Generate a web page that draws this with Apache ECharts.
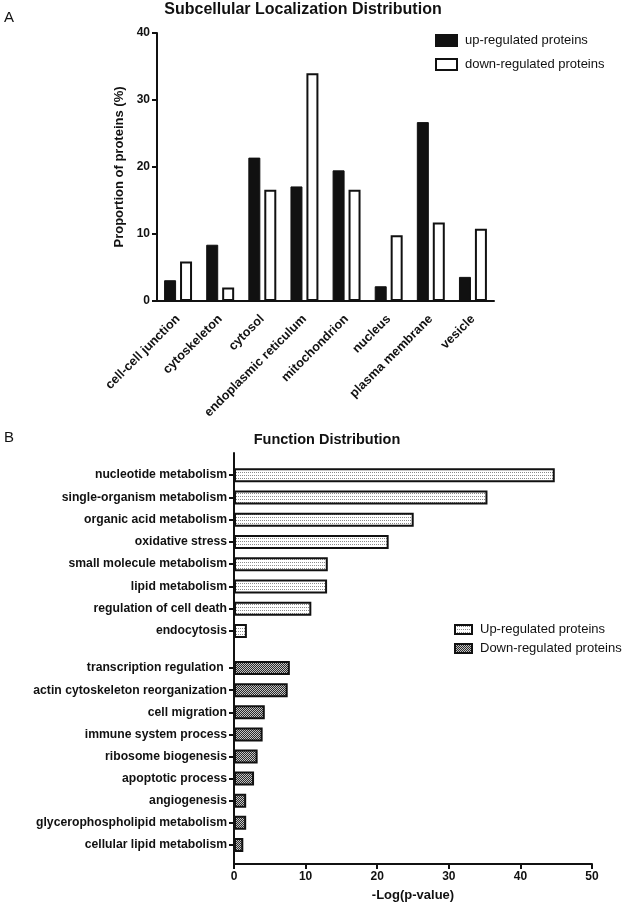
<!DOCTYPE html>
<html>
<head>
<meta charset="utf-8">
<script src="https://cdn.jsdelivr.net/npm/echarts@6/dist/echarts.min.js"></script>
<style>
html,body{margin:0;padding:0;background:#fff;}
#chart{width:625px;height:905px;}
</style>
</head>
<body>
<div id="chart"></div>
<script>
// ---- Data: Subcellular localization (A) ----
const locCategories = ['cell-cell junction','cytoskeleton','cytosol','endoplasmic reticulum','mitochondrion','nucleus','plasma membrane','vesicle'];
const locUp = [3.1, 8.4, 21.4, 17.1, 19.5, 2.2, 26.7, 3.6];
const locDown = [5.9, 2.0, 16.6, 34.0, 16.6, 9.8, 11.7, 10.8];
const locYTicks = [0, 10, 20, 30, 40];

// ---- Data: Function distribution (B) ----
const funcUpCategories = ['nucleotide metabolism','single-organism metabolism','organic acid metabolism','oxidative stress','small molecule metabolism','lipid metabolism','regulation of cell death','endocytosis'];
const funcUpValues = [44.8, 35.4, 25.1, 21.6, 13.1, 13.0, 10.8, 1.8];
const funcDownCategories = ['transcription regulation ','actin cytoskeleton reorganization','cell migration','immune system process','ribosome biogenesis','apoptotic process','angiogenesis','glycerophospholipid metabolism','cellular lipid metabolism'];
const funcDownValues = [7.8, 7.5, 4.3, 4.0, 3.3, 2.8, 1.7, 1.7, 1.3];
const funcXTicks = [0, 10, 20, 30, 40, 50];

const FONT = '"Liberation Sans", Arial, Helvetica, sans-serif';
const INK = '#111';

function makePattern(w, h, bg, fg, pts) {
  const c = document.createElement('canvas');
  c.width = w; c.height = h;
  const ctx = c.getContext('2d');
  ctx.fillStyle = bg; ctx.fillRect(0, 0, w, h);
  ctx.fillStyle = fg;
  pts.forEach(p => ctx.fillRect(p[0], p[1], 1, 1));
  return { image: c, repeat: 'repeat' };
}
const dotPattern = makePattern(2, 3, '#ffffff', '#8a8a8a', [[0, 1]]);
const checkPattern = makePattern(2, 2, '#2a2a2a', '#c4c4c4', [[0, 0], [1, 1]]);

const chart = echarts.init(document.getElementById('chart'), null, {renderer: 'canvas'});

const axisLineStyle = {color: INK, width: 2};
const boldLabel = {color: INK, fontFamily: FONT, fontWeight: 'bold', fontSize: 12};

const option = {
  backgroundColor: '#fff',
  animation: false,
  graphic: [
    {type: 'text', x: 4, y: 10, style: {text: 'A', font: '15px ' + FONT, fill: INK}},
    {type: 'text', x: 303, y: 10, style: {text: 'Subcellular Localization Distribution', font: 'bold 16px ' + FONT, fill: INK, textAlign: 'center', textVerticalAlign: 'middle'}},
    {type: 'text', x: 4, y: 430, style: {text: 'B', font: '15px ' + FONT, fill: INK}},
    {type: 'text', x: 327, y: 440, style: {text: 'Function Distribution', font: 'bold 14.5px ' + FONT, fill: INK, textAlign: 'center', textVerticalAlign: 'middle'}}
  ],
  legend: [
    {
      data: ['up-regulated proteins', 'down-regulated proteins'],
      orient: 'vertical', left: 430, top: 29,
      itemWidth: 21, itemHeight: 11, itemGap: 11,
      textStyle: {color: INK, fontFamily: FONT, fontSize: 13, padding: [0, 0, 0, 3]},
      icon: 'rect', selectedMode: false
    },
    {
      data: ['Up-regulated proteins', 'Down-regulated proteins'],
      orient: 'vertical', left: 449, top: 618,
      itemWidth: 17, itemHeight: 9, itemGap: 6,
      textStyle: {color: INK, fontFamily: FONT, fontSize: 13, padding: [0, 0, 0, 3]},
      icon: 'rect', selectedMode: false
    }
  ],
  grid: [
    {left: 157, top: 33, width: 337, height: 268},
    {left: 234, top: 453, width: 358, height: 411},
    {left: 234, top: 464, width: 358, height: 178},
    {left: 234, top: 657, width: 358, height: 199}
  ],
  xAxis: [
    {
      gridIndex: 0, type: 'category', data: locCategories,
      axisLine: {lineStyle: axisLineStyle},
      axisTick: {alignWithLabel: true, length: 5, lineStyle: {color: INK, width: 2}},
      axisLabel: Object.assign({}, boldLabel, {rotate: 45, interval: 0, margin: 16, fontSize: 12.7}),
      splitLine: {show: false}
    },
    {
      gridIndex: 1, type: 'value', min: funcXTicks[0], max: funcXTicks[funcXTicks.length - 1], interval: funcXTicks[1] - funcXTicks[0],
      name: '-Log(p-value)', nameLocation: 'middle', nameGap: 25,
      nameTextStyle: {color: INK, fontFamily: FONT, fontWeight: 'bold', fontSize: 13},
      axisLine: {lineStyle: axisLineStyle},
      axisTick: {show: true, length: 5, lineStyle: {color: INK, width: 2}},
      axisLabel: Object.assign({}, boldLabel, {margin: 7}),
      splitLine: {show: false}
    },
    {gridIndex: 2, type: 'value', min: 0, max: 50, show: false},
    {gridIndex: 3, type: 'value', min: 0, max: 50, show: false}
  ],
  yAxis: [
    {
      gridIndex: 0, type: 'value', min: locYTicks[0], max: locYTicks[locYTicks.length - 1], interval: locYTicks[1] - locYTicks[0],
      name: 'Proportion of proteins (%)', nameLocation: 'middle', nameGap: 24,
      nameTextStyle: {color: INK, fontFamily: FONT, fontWeight: 'bold', fontSize: 13},
      axisLine: {show: true, lineStyle: axisLineStyle},
      axisTick: {show: true, length: 5, lineStyle: {color: INK, width: 2}},
      axisLabel: Object.assign({}, boldLabel, {margin: 7}),
      splitLine: {show: false}
    },
    {
      gridIndex: 1, type: 'value', min: 0, max: 1,
      axisLine: {show: true, lineStyle: axisLineStyle},
      axisTick: {show: false}, axisLabel: {show: false}, splitLine: {show: false}
    },
    {
      gridIndex: 2, type: 'category', data: funcUpCategories, inverse: true,
      axisLine: {show: false},
      axisTick: {show: true, alignWithLabel: true, length: 5, lineStyle: {color: INK, width: 2}},
      axisLabel: Object.assign({}, boldLabel, {margin: 7, interval: 0, fontSize: 12.2})
    },
    {
      gridIndex: 3, type: 'category', data: funcDownCategories, inverse: true,
      axisLine: {show: false},
      axisTick: {show: true, alignWithLabel: true, length: 5, lineStyle: {color: INK, width: 2}},
      axisLabel: Object.assign({}, boldLabel, {margin: 7, interval: 0, fontSize: 12.2})
    }
  ],
  series: [
    {
      name: 'up-regulated proteins', type: 'bar', xAxisIndex: 0, yAxisIndex: 0,
      data: locUp, barWidth: 12, barGap: '33%',
      itemStyle: {color: INK, borderColor: INK, borderWidth: 1}
    },
    {
      name: 'down-regulated proteins', type: 'bar', xAxisIndex: 0, yAxisIndex: 0,
      data: locDown, barWidth: 12, barGap: '33%',
      itemStyle: {color: '#fff', borderColor: INK, borderWidth: 2}
    },
    {
      name: 'Up-regulated proteins', type: 'bar', xAxisIndex: 2, yAxisIndex: 2,
      data: funcUpValues, barWidth: 14,
      itemStyle: {color: dotPattern, borderColor: INK, borderWidth: 2}
    },
    {
      name: 'Down-regulated proteins', type: 'bar', xAxisIndex: 3, yAxisIndex: 3,
      data: funcDownValues, barWidth: 14,
      itemStyle: {color: checkPattern, borderColor: INK, borderWidth: 2}
    }
  ]
};
chart.setOption(option);
</script>
</body>
</html>
